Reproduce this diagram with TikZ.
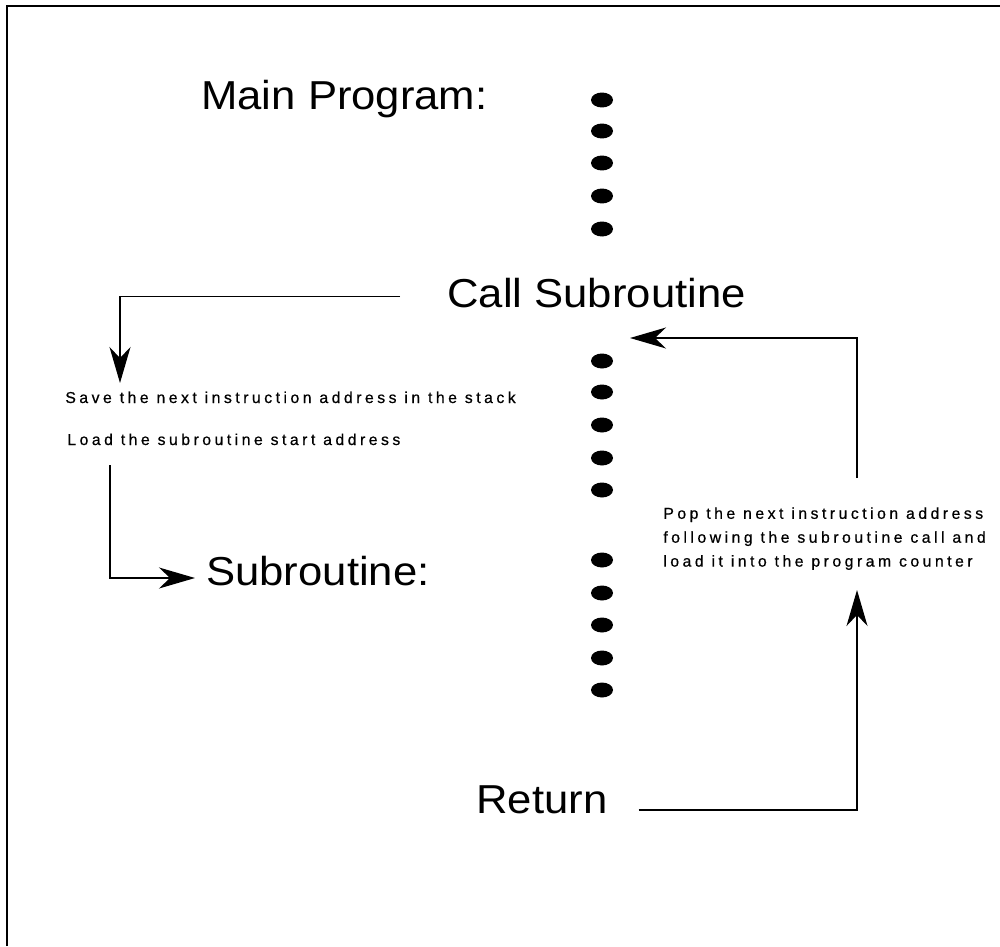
\documentclass[tikz,border=0pt]{standalone}
\usepackage{fontspec}
\setmainfont{Liberation Sans}
\newfontfamily\bigface[FakeStretch=1.08]{Liberation Sans}
\newfontfamily\smallface[LetterSpace=22,FakeBold=0.6]{Liberation Sans}
\usepackage{tikz}
\usetikzlibrary{calc,arrows.meta}
\definecolor{ink}{HTML}{000000}
\definecolor{paper}{HTML}{FFFFFF}
\tikzset{
  frame/.style={draw=ink, line width=1.4pt},
  link/.style={draw=ink, line width=0.8pt, -{Stealth[length=0.72cm,width=0.42cm,inset=0.22cm]}},
  big/.style={text=ink, inner sep=0pt, font=\bigface\fontsize{23}{28}\selectfont},
  note/.style={text=ink, inner sep=0pt, align=left, font=\smallface\fontsize{9}{13.6}\selectfont},
}

\begin{document}
\begin{tikzpicture}[x=0.02cm,y=-0.02cm]
  \useasboundingbox (0,0) rectangle (1000,946);
  \fill[paper] (0,0) rectangle (1000,946);
  \draw[frame] (7,946) -- (7,6) -- (1000,6);

  % labels
  \node[big, anchor=base west] (mainlbl) at (201,110) {Main Program:};
  \node[big, anchor=base west] (calllbl) at (447,307) {Call Subroutine};
  \node[big, anchor=base west] (sublbl) at (206,585) {Subroutine:};
  \node[big, anchor=base west] (retlbl) at (476,813) {Return};
  \node[note, anchor=base west] (savetxt) at (65,403) {Save the next instruction address in the stack};
  \node[note, anchor=base west] (loadtxt) at (67,445) {Load the subroutine start address};
  \node[note, anchor=north west] (poptxt) at (663,507) {Pop the next instruction address\\following the subroutine call and\\load it into the program counter};

  % instruction dots
  \foreach \y in {100,131,163,196,229,361,392,425,458,490,560,593,625,658,690}
    \fill[ink] (602,\y) ellipse [x radius=0.22cm, y radius=0.15cm];

  % flow
  \coordinate (savetip) at (120,383);
  \coordinate (loadfoot) at (110,465);
  \coordinate (poptip) at (857,590);
  \coordinate (popfoot) at (857,478);
  \coordinate (calltip) at (630,338);
  \draw[link] ([shift={(-0.94cm,-0.08cm)}]calllbl.west) -| (savetip);
  \draw[link, shorten >=0.22cm] (loadfoot) |- ([yshift=0.14cm]sublbl.base west);
  \draw[link] ([shift={(0.62cm,0.06cm)}]retlbl.base east) -| (poptip);
  \draw[link] (popfoot) |- (calltip);
\end{tikzpicture}
\end{document}
